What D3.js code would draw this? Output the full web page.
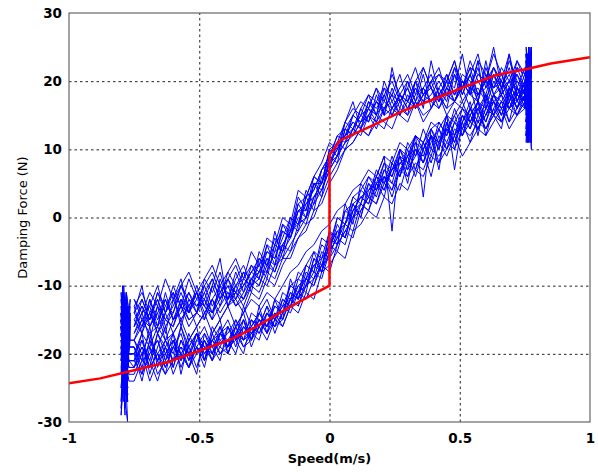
<!DOCTYPE html>
<html>
<head>
<meta charset="utf-8">
<script src="https://cdn.jsdelivr.net/npm/d3@7"></script>
<style>
  body { margin: 0; background: #fff; }
  .tick text { font-family: "DejaVu Sans", sans-serif; font-weight: bold; font-size: 13.5px; fill: #000; }
  .grid line { stroke: #222; stroke-dasharray: 2.5,3; }
  .label { font-family: "DejaVu Sans", sans-serif; fill: #000; }
</style>
</head>
<body>
<div id="vis"></div>
<script>
const FRAME_HEIGHT = 472;
const FRAME_WIDTH = 598;
const MARGINS = {left: 69, right: 8, top: 13, bottom: 50};

const VIS_HEIGHT = FRAME_HEIGHT - MARGINS.top - MARGINS.bottom;
const VIS_WIDTH = FRAME_WIDTH - MARGINS.left - MARGINS.right;

const X_TICKS = [-1, -0.5, 0, 0.5, 1];
const Y_TICKS = [-30, -20, -10, 0, 10, 20, 30];

// speed samples shared by every measured branch
const SPEED = [-0.75, -0.72, -0.69, -0.66, -0.63, -0.60, -0.57, -0.54, -0.51, -0.48,
  -0.45, -0.42, -0.39, -0.36, -0.33, -0.30, -0.27, -0.24, -0.21, -0.18,
  -0.15, -0.12, -0.09, -0.06, -0.03, 0.00, 0.03, 0.06, 0.09, 0.12,
  0.15, 0.18, 0.21, 0.24, 0.27, 0.30, 0.33, 0.36, 0.39, 0.42,
  0.45, 0.48, 0.51, 0.54, 0.57, 0.60, 0.63, 0.66, 0.69, 0.72, 0.75];

// speeds at the turning points (max |v|)
const LEFT_TURN_SPEED = [-0.765, -0.78, -0.795, -0.785, -0.8, -0.775, -0.79, -0.785, -0.8, -0.78, -0.795, -0.775, -0.785, -0.77];
const RIGHT_TURN_SPEED = [0.75, 0.765, 0.755, 0.77, 0.76, 0.775, 0.765, 0.755, 0.77, 0.76, 0.775, 0.765, 0.76, 0.75];

// lower branch of each measured loop (force, N)
const LOWER = [
  [-22,-18,-21,-17,-20,-22,-18,-21,-17,-19,-20,-16,-19,-17,-15,-18,-14,-16,-13,-14,-10,-11,-7,-8,-4,-5,0,-1,3,2,6,4,8,6,10,8,12,10,13,11,15,12,16,14,17,15,18,16,17,19,16],
  [-19,-23,-20,-18,-22,-19,-21,-17,-20,-18,-21,-17,-16,-19,-15,-17,-16,-13,-15,-12,-13,-9,-10,-6,-7,-3,-4,1,0,4,3,7,5,9,6,11,9,13,10,14,12,16,13,15,17,14,18,15,19,16,18],
  [-23,-20,-24,-21,-19,-23,-20,-22,-19,-21,-18,-20,-19,-17,-18,-16,-17,-15,-16,-14,-12,-13,-10,-9,-7,-6,-4,-2,0,1,3,2,5,4,7,6,8,7,10,9,11,10,13,12,14,13,15,14,16,15,17],
  [-18,-21,-16,-22,-19,-17,-23,-18,-16,-21,-17,-15,-20,-16,-14,-18,-13,-17,-12,-15,-9,-12,-7,-5,-8,-2,-4,2,-1,5,3,6,9,-2,10,7,12,3,13,10,15,7,14,17,12,18,15,13,19,16,20],
  [-20,-17,-19,-16,-18,-17,-15,-18,-16,-14,-17,-15,-13,-16,-14,-12,-13,-11,-12,-10,-8,-7,-5,-4,-2,-1,1,2,4,5,7,6,9,8,11,10,12,11,14,13,15,14,16,15,17,16,18,17,16,18,17],
  [-21,-19,-22,-20,-18,-21,-19,-20,-17,-19,-18,-19,-16,-18,-17,-15,-16,-14,-15,-13,-12,-10,-9,-7,-6,-4,-2,-1,2,3,4,6,5,7,8,9,11,10,12,11,13,12,15,14,13,16,15,17,16,17,16],
  [-19,-22,-18,-21,-20,-18,-22,-19,-17,-20,-18,-17,-19,-15,-17,-16,-14,-16,-13,-14,-11,-12,-8,-9,-5,-6,-2,-3,1,2,5,3,7,5,9,8,10,9,12,10,14,11,15,13,16,14,17,15,18,17,19],
  [-20,-24,-19,-21,-23,-18,-20,-22,-18,-19,-21,-17,-18,-20,-16,-17,-15,-16,-14,-15,-12,-11,-9,-10,-6,-5,-3,-1,1,3,2,5,6,4,8,7,9,11,8,12,10,13,12,14,16,13,15,17,14,16,18],
  [-21,-17,-23,-19,-16,-22,-18,-20,-23,-17,-19,-21,-16,-18,-20,-15,-17,-14,-16,-12,-13,-10,-11,-6,-8,-4,-2,-3,2,0,4,5,3,8,6,9,10,8,12,11,13,15,12,16,14,17,15,19,16,18,17],
  [-22,-19,-21,-24,-20,-18,-21,-19,-22,-18,-20,-17,-19,-18,-16,-18,-15,-17,-15,-13,-14,-11,-10,-8,-9,-5,-3,-4,0,2,1,4,6,3,7,9,6,10,12,8,13,11,14,16,13,15,17,14,18,15,17],
  [-18,-20,-17,-21,-18,-20,-16,-19,-17,-21,-16,-18,-17,-15,-18,-14,-15,-16,-12,-13,-10,-9,-7,-8,-3,-4,0,-1,3,4,6,5,8,7,10,9,12,11,13,14,12,15,17,14,16,18,15,17,19,16,18],
  [-24,-21,-22,-20,-23,-21,-19,-22,-20,-18,-21,-19,-20,-17,-19,-18,-16,-18,-15,-16,-13,-14,-11,-12,-8,-7,-5,-6,-2,-1,1,0,3,2,5,4,7,6,9,8,10,12,9,11,13,12,14,16,13,15,16],
  [-20,-18,-22,-17,-19,-21,-16,-20,-18,-16,-19,-17,-15,-18,-13,-16,-14,-12,-15,-11,-12,-8,-9,-5,-6,-2,-3,1,2,0,5,4,7,6,9,5,11,8,12,7,14,10,15,13,17,12,16,18,14,19,17],
  [-19,-21,-20,-18,-21,-17,-20,-18,-19,-22,-17,-20,-18,-16,-19,-17,-18,-14,-16,-15,-12,-13,-9,-10,-7,-4,-5,-1,-2,2,1,5,4,8,6,10,7,11,9,13,11,14,13,16,14,15,18,16,17,19,18],
  [-22,-20,-19,-23,-21,-19,-20,-22,-19,-17,-20,-18,-19,-16,-18,-17,-15,-17,-14,-16,-13,-11,-12,-9,-7,-8,-4,-2,-3,1,3,2,6,5,4,8,7,10,6,11,9,12,14,11,15,13,16,14,17,15,18],
  [-21,-23,-18,-20,-22,-19,-17,-21,-19,-20,-18,-16,-20,-17,-15,-19,-16,-13,-17,-14,-11,-12,-10,-7,-8,-5,-1,-3,1,3,2,6,4,7,9,6,10,8,11,13,10,14,12,15,13,16,17,15,18,16,19]
];

// upper branch of each measured loop (force, N)
const UPPER = [
  [-13,-17,-12,-16,-11,-15,-12,-14,-10,-13,-15,-9,-12,-8,-11,-7,-9,-4,-7,-1,-3,2,0,5,3,9,8,13,12,16,14,18,15,19,16,20,17,21,16,19,17,22,18,21,17,23,18,20,17,22,19],
  [-16,-12,-15,-11,-14,-10,-13,-11,-14,-9,-11,-8,-12,-9,-7,-10,-5,-7,-3,-5,0,-1,4,2,7,9,12,11,15,14,17,15,19,16,18,20,17,19,21,18,20,19,24,18,21,20,25,19,22,18,21],
  [-17,-14,-18,-13,-15,-16,-12,-15,-14,-11,-14,-12,-10,-13,-11,-9,-10,-7,-8,-4,-5,-1,0,3,4,7,9,11,13,12,15,14,16,17,15,18,16,19,17,16,19,17,20,18,17,21,18,19,20,17,20],
  [-14,-10,-16,-13,-17,-12,-9,-14,-11,-15,-10,-6,-13,-10,-8,-11,-6,-8,-2,-6,-2,3,1,6,5,10,9,14,17,13,16,19,15,22,17,15,20,16,23,18,16,21,17,19,23,16,20,18,24,17,20],
  [-18,-15,-17,-16,-14,-17,-15,-13,-16,-14,-12,-15,-13,-12,-14,-11,-12,-9,-10,-7,-5,-3,-2,1,2,5,7,10,11,13,12,15,14,13,16,15,17,14,16,18,15,17,16,19,15,18,17,16,19,18,17],
  [-12,-14,-11,-13,-9,-12,-10,-8,-11,-9,-7,-10,-8,-6,-9,-5,-7,-3,-4,0,-1,4,3,6,8,11,10,14,16,15,18,17,19,18,21,17,20,22,19,21,20,23,19,22,21,20,24,21,19,22,21],
  [-15,-13,-16,-14,-12,-15,-14,-11,-13,-12,-14,-10,-11,-12,-9,-10,-8,-6,-7,-4,-2,-1,2,3,5,8,10,12,13,15,16,15,17,16,18,17,19,17,18,20,18,17,20,19,18,20,19,21,18,20,19],
  [-16,-13,-15,-12,-16,-14,-11,-14,-12,-13,-10,-13,-9,-11,-10,-8,-9,-5,-6,-2,-3,1,1,5,5,9,11,12,15,14,15,17,16,18,17,19,16,18,19,17,21,18,19,22,18,19,21,18,20,21,18],
  [-14,-16,-12,-15,-13,-11,-16,-12,-14,-10,-13,-11,-9,-12,-10,-8,-7,-9,-4,-5,-1,-2,3,1,6,7,11,10,13,15,14,17,16,15,18,17,20,18,17,19,21,18,20,19,22,17,21,19,23,20,18],
  [-16,-14,-13,-17,-14,-12,-15,-13,-11,-14,-12,-10,-13,-11,-12,-9,-10,-6,-8,-5,-3,0,-1,3,5,8,9,13,12,14,16,14,18,15,17,19,16,18,20,17,19,18,21,20,17,22,19,20,18,21,19],
  [-12,-15,-13,-10,-14,-11,-13,-9,-12,-10,-8,-11,-9,-7,-10,-8,-6,-7,-4,-2,-3,1,0,5,4,8,10,12,14,13,17,16,18,20,17,19,22,18,20,21,19,22,20,18,23,21,19,22,20,23,21],
  [-17,-15,-16,-14,-18,-15,-13,-16,-14,-15,-12,-14,-12,-11,-13,-10,-11,-8,-9,-6,-6,-3,-1,0,3,6,8,10,11,13,12,14,13,16,15,14,17,15,16,18,16,17,19,16,18,20,17,18,16,19,18],
  [-13,-11,-14,-12,-15,-13,-10,-12,-13,-11,-9,-12,-10,-11,-8,-9,-7,-5,-6,-3,0,-1,3,4,7,9,12,13,15,17,16,19,17,21,18,16,19,17,20,22,18,21,19,23,20,18,22,20,24,19,22],
  [-15,-17,-14,-16,-12,-15,-13,-14,-11,-13,-14,-11,-12,-10,-12,-9,-8,-8,-5,-4,-2,1,2,4,7,8,11,12,14,13,15,17,15,16,18,16,18,19,17,18,20,17,19,21,18,20,22,19,21,18,20],
  [-18,-16,-14,-17,-15,-16,-13,-15,-14,-12,-15,-13,-11,-13,-12,-10,-9,-10,-7,-6,-4,-2,0,2,4,7,9,11,12,14,15,13,16,18,15,17,16,18,19,16,18,17,20,18,19,17,21,18,20,19,17],
  [-14,-12,-15,-11,-13,-14,-10,-13,-11,-12,-9,-12,-8,-10,-9,-7,-8,-4,-5,-1,-2,2,3,6,5,10,11,14,13,16,18,15,20,17,19,21,18,22,19,17,20,23,18,21,24,19,22,20,18,23,20]
];

// force while turning around at the speed extremes
const LEFT_TURN = [
  [-15,-11,-25,-13,-27,-16,-24,-12,-21,-14,-26,-17,-23,-21],
  [-16,-22,-12,-26,-14,-23,-10,-25,-19,-13,-24,-15,-22,-19],
  [-17,-13,-24,-18,-29,-15,-22,-14,-23,-12,-25,-16,-21,-23],
  [-14,-24,-11,-22,-17,-26,-13,-21,-18,-27,-12,-23,-15,-18],
  [-18,-12,-23,-16,-25,-14,-27,-17,-20,-11,-24,-13,-22,-20],
  [-12,-20,-15,-26,-11,-24,-18,-22,-21,-14,-25,-16,-23,-21],
  [-15,-25,-14,-21,-28,-13,-23,-16,-19,-24,-12,-26,-17,-19],
  [-16,-11,-24,-15,-22,-30,-17,-25,-20,-13,-23,-14,-21,-20],
  [-14,-23,-12,-25,-16,-21,-11,-26,-15,-24,-18,-22,-13,-21],
  [-16,-26,-13,-22,-15,-27,-12,-24,-17,-20,-11,-25,-18,-22],
  [-12,-19,-10,-23,-14,-25,-13,-21,-16,-26,-15,-22,-17,-18],
  [-17,-24,-14,-28,-16,-22,-13,-25,-19,-23,-15,-27,-20,-24],
  [-13,-22,-11,-24,-17,-26,-14,-20,-12,-23,-16,-25,-18,-20],
  [-15,-25,-13,-21,-18,-27,-12,-23,-16,-22,-14,-24,-17,-19],
  [-18,-23,-15,-26,-13,-24,-17,-29,-14,-22,-16,-25,-19,-22],
  [-14,-21,-12,-25,-15,-23,-11,-26,-17,-24,-13,-22,-18,-21]
];
const RIGHT_TURN = [
  [18,24,13,21,11,23,16,22,19,14,24,12,20,19],
  [19,12,25,15,22,10,24,17,21,13,23,16,22,21],
  [17,22,14,20,12,21,15,23,20,13,24,15,19,20],
  [20,13,24,11,22,16,25,14,18,12,23,15,21,20],
  [17,21,12,23,15,20,11,22,17,24,14,21,16,17],
  [19,24,15,21,13,25,17,23,21,14,22,16,24,21],
  [19,14,23,12,21,17,24,15,19,22,13,20,16,19],
  [18,22,11,24,14,20,13,23,18,15,24,12,21,18],
  [17,23,14,21,12,24,16,20,13,22,15,25,17,18],
  [17,12,22,15,24,11,21,16,23,13,20,14,22,19],
  [18,24,13,22,16,25,12,21,17,23,14,20,19,21],
  [16,21,12,23,14,19,11,22,15,24,13,20,17,18],
  [19,25,14,22,11,23,17,24,13,21,16,25,18,22],
  [19,13,24,15,21,12,23,16,22,14,25,17,20,20],
  [18,23,12,20,15,24,13,22,16,21,11,23,17,17],
  [19,24,16,22,13,25,15,21,18,23,14,22,20,20]
];

// model curve (red)
const MODEL_SPEED = [-1, -0.88, -0.75, -0.62, -0.51, -0.38, -0.29, -0.16, -0.08, 0, 0, 0.02, 0.04, 0.16, 0.28, 0.39, 0.52, 0.64, 0.77, 0.85, 1];
const MODEL_FORCE = [-24.3, -23.6, -22.4, -21.2, -19.7, -17.9, -16.2, -13.3, -11.6, -10, 9.2, 10.2, 11.3, 13.4, 15.6, 17.2, 19.2, 20.9, 21.9, 22.6, 23.5];

const FRAME = d3.select("#vis")
  .append("svg")
    .attr("height", FRAME_HEIGHT)
    .attr("width", FRAME_WIDTH);

const X_SCALE = d3.scaleLinear().domain([-1, 1]).range([0, VIS_WIDTH]);
const Y_SCALE = d3.scaleLinear().domain([-30, 30]).range([VIS_HEIGHT, 0]);

const PLOT = FRAME.append("g")
  .attr("transform", "translate(" + MARGINS.left + "," + MARGINS.top + ")");

PLOT.append("clipPath").attr("id", "clip")
  .append("rect").attr("width", VIS_WIDTH).attr("height", VIS_HEIGHT);

// grid + tick labels
const xAxis = PLOT.append("g")
  .attr("class", "grid")
  .attr("transform", "translate(0," + VIS_HEIGHT + ")")
  .call(d3.axisBottom(X_SCALE).tickValues(X_TICKS).tickSize(-VIS_HEIGHT)
    .tickPadding(11).tickFormat(d => String(d)));
xAxis.select(".domain").remove();

const yAxis = PLOT.append("g")
  .attr("class", "grid")
  .call(d3.axisLeft(Y_SCALE).tickValues(Y_TICKS).tickSize(-VIS_WIDTH)
    .tickPadding(7).tickFormat(d => String(d)));
yAxis.select(".domain").remove();

// no grid on the box edges
xAxis.selectAll(".tick").filter(d => d === -1 || d === 1).select("line").remove();
yAxis.selectAll(".tick").filter(d => d === -30 || d === 30).select("line").remove();

// measured loops
const line = d3.line()
  .x(d => X_SCALE(d[0]))
  .y(d => Y_SCALE(d[1]));

const loops = LOWER.map((low, i) => {
  const pts = [];
  LEFT_TURN[i].forEach((f, j) => pts.push([LEFT_TURN_SPEED[j], f]));
  low.forEach((f, j) => pts.push([SPEED[j], f]));
  RIGHT_TURN[i].forEach((f, j) => pts.push([RIGHT_TURN_SPEED[j], f]));
  for (let j = SPEED.length - 1; j >= 0; j--) pts.push([SPEED[j], UPPER[i][j]]);
  return pts;
});

PLOT.append("g").attr("clip-path", "url(#clip)")
  .selectAll("path.loop")
  .data(loops)
  .enter()
  .append("path")
    .attr("class", "loop")
    .attr("d", line)
    .attr("fill", "none")
    .attr("stroke", "#0000ff")
    .attr("stroke-width", 1);

// model curve
PLOT.append("path")
  .datum(MODEL_SPEED.map((v, i) => [v, MODEL_FORCE[i]]))
  .attr("clip-path", "url(#clip)")
  .attr("d", line)
  .attr("fill", "none")
  .attr("stroke", "#ff0000")
  .attr("stroke-width", 2.5);

// box
PLOT.append("rect")
  .attr("width", VIS_WIDTH)
  .attr("height", VIS_HEIGHT)
  .attr("fill", "none")
  .attr("stroke", "#666")
  .attr("stroke-width", 1.2);

// axis labels
FRAME.append("text")
  .attr("class", "label")
  .attr("x", MARGINS.left + VIS_WIDTH / 2)
  .attr("y", 463)
  .attr("text-anchor", "middle")
  .attr("font-size", "13px")
  .attr("font-weight", "bold")
  .text("Speed(m/s)");

FRAME.append("text")
  .attr("class", "label")
  .attr("transform", "translate(27," + (MARGINS.top + VIS_HEIGHT / 2) + ") rotate(-90)")
  .attr("text-anchor", "middle")
  .attr("font-size", "13px")
  .text("Damping Force (N)");
</script>
</body>
</html>
